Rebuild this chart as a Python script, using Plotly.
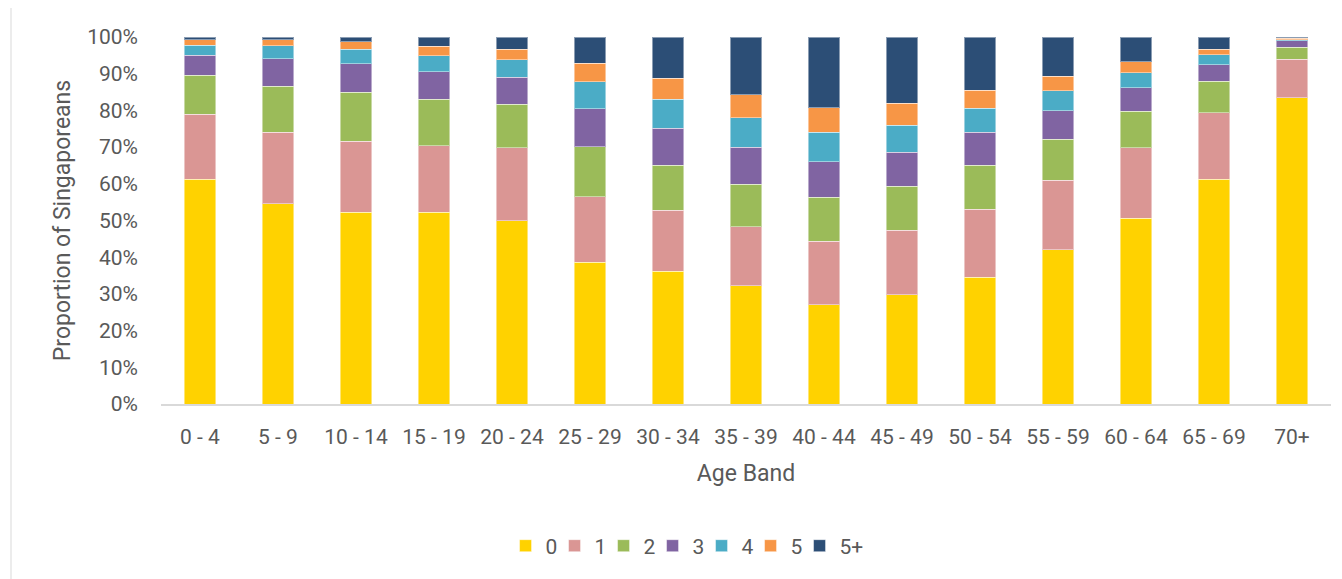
import plotly.graph_objects as go

age_bands = ["0 - 4", "5 - 9", "10 - 14", "15 - 19", "20 - 24", "25 - 29", "30 - 34",
             "35 - 39", "40 - 44", "45 - 49", "50 - 54", "55 - 59", "60 - 64", "65 - 69", "70+"]

series_names = ["0", "1", "2", "3", "4", "5", "5+"]

s0 = [61.2, 54.6, 52.3, 52.3, 49.9, 38.6, 36.2, 32.2, 27.0, 29.8, 34.6, 42.0, 50.6, 61.3, 83.4]
s1 = [17.7, 19.4, 19.3, 18.1, 19.9, 17.9, 16.6, 16.1, 17.4, 17.6, 18.4, 19.0, 19.2, 18.1, 10.5]
s2 = [10.7, 12.6, 13.3, 12.6, 11.9, 13.6, 12.3, 11.6, 12.0, 12.0, 12.1, 11.2, 10.0, 8.6, 3.3]
s3 = [5.4, 7.5, 7.8, 7.5, 7.4, 10.4, 10.0, 10.0, 9.6, 9.2, 8.9, 7.7, 6.4, 4.5, 1.8]
s4 = [2.8, 3.5, 4.0, 4.4, 4.7, 7.3, 7.9, 8.1, 8.1, 7.4, 6.6, 5.4, 4.1, 2.7, 0.3]
s5 = [1.5, 1.7, 2.0, 2.6, 2.8, 5.0, 5.7, 6.2, 6.6, 6.0, 4.9, 4.0, 3.0, 1.5, 0.3]
s5plus = [0.7, 0.7, 1.3, 2.5, 3.4, 7.2, 11.3, 15.8, 19.3, 18.0, 14.5, 10.7, 6.7, 3.3, 0.4]

colors = ["#FFD200", "#DA9694", "#9BBB59", "#8064A2", "#4BACC6", "#F79646", "#2C4E76"]

y_tick_vals = [0, 0.1, 0.2, 0.3, 0.4, 0.5, 0.6, 0.7, 0.8, 0.9, 1.0]
y_tick_text = ["0%", "10%", "20%", "30%", "40%", "50%", "60%", "70%", "80%", "90%", "100%"]

all_series = [s0, s1, s2, s3, s4, s5, s5plus]

FONT = "Roboto, sans-serif"
TXT = "#595959"

# page body has an 8px default margin; compensate so the plot area lands at
# left=161, top=37, width=1170, height=367 on screen
L, T, PW, PH = 153, 29, 1170, 367
W, H = 1342, 579

fig = go.Figure()
for name, vals, col in zip(series_names, all_series, colors):
    fig.add_trace(go.Bar(
        x=age_bands,
        y=[v / 100 for v in vals],
        name=name,
        marker=dict(color=col, line=dict(color="rgba(255,255,255,0.45)", width=1)),
    ))

# empty, invisible legend spacer so the last legend label ("5+") is not clipped
fig.add_trace(go.Scatter(
    x=[None], y=[None], mode="markers", name=" ",
    marker=dict(opacity=0, color="rgba(0,0,0,0)"),
    hoverinfo="skip", showlegend=True,
))

fig.update_layout(
    barmode="stack",
    bargap=0.6,
    width=W,
    height=H,
    margin=dict(l=L, r=W - L - PW, t=T, b=H - T - PH, pad=0),
    paper_bgcolor="white",
    plot_bgcolor="white",
    font=dict(family=FONT, color=TXT, size=21),
    showlegend=True,
    legend=dict(
        orientation="h",
        x=0.462, xanchor="center",
        y=-0.387, yanchor="middle",
        font=dict(size=21, color=TXT, family=FONT),
        traceorder="normal",
        entrywidth=4,
        entrywidthmode="pixels",
        itemwidth=30,
    ),
    xaxis=dict(
        showgrid=False,
        showline=True,
        linecolor="#D9D9D9",
        linewidth=1.5,
        ticks="",
        ticklabelstandoff=13,
        tickfont=dict(size=21, color=TXT, family=FONT),
        title=dict(text="Age Band", font=dict(size=23, color=TXT, family=FONT), standoff=17),
    ),
    yaxis=dict(
        range=[0, 1],
        tickvals=y_tick_vals,
        ticktext=y_tick_text,
        showgrid=False,
        zeroline=False,
        showline=False,
        ticks="",
        ticklabelstandoff=22,
        tickfont=dict(size=21, color=TXT, family=FONT),
        title=dict(text="Proportion of Singaporeans", font=dict(size=23, color=TXT, family=FONT), standoff=10),
    ),
    shapes=[dict(
        type="rect", xref="paper", yref="paper",
        x0=(11 - 161) / PW, x1=(1360 - 161) / PW,
        y0=(404 - 600) / PH, y1=(404 - 7.5) / PH,
        line=dict(color="#D9D9D9", width=1),
        fillcolor="rgba(0,0,0,0)",
        layer="below",
    )],
)

fig.write_html("out.html")
